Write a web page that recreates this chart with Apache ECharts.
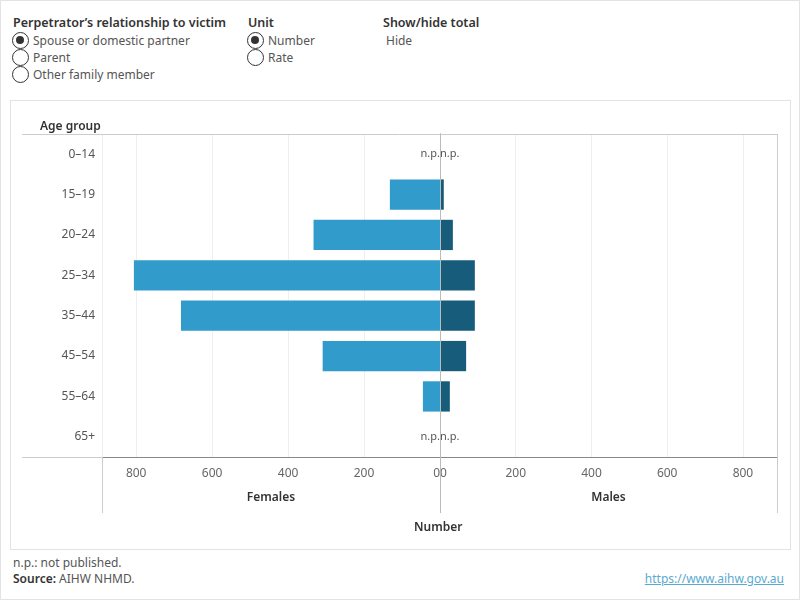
<!DOCTYPE html>
<html>
<head>
<meta charset="utf-8">
<script src="https://cdn.jsdelivr.net/npm/echarts@6/dist/echarts.min.js"></script>
<style>
  html, body { margin: 0; padding: 0; }
  body { width: 800px; height: 600px; position: relative; overflow: hidden; font-family: 'Noto Sans', sans-serif; color: #555; }
  .page { position: absolute; left: 0; top: 0; width: 798px; height: 598px; border: 1px solid #e3e3e3; }
  .box { position: absolute; left: 10px; top: 100px; width: 779px; height: 448px; border: 1px solid #e3e3e3; }
  #chart { position: absolute; left: 0; top: 0; width: 800px; height: 600px; }
  .ctl { position: absolute; top: 14px; font-size: 12px; }
  .ctl .title { font-weight: 600; color: #333; height: 18px; line-height: 18px; font-size: 12.5px; }
  .opt { height: 17px; line-height: 17px; position: relative; padding-left: 20px; white-space: nowrap; }
  .opt .r { position: absolute; left: -1px; top: 0px; width: 17px; height: 17px; border: 1.3px solid #333; border-radius: 50%; box-sizing: border-box; background: #fff; }
  .opt .r.on::after { content: ''; position: absolute; left: 3px; top: 3px; width: 8px; height: 8px; border-radius: 50%; background: #333; }
  .foot { position: absolute; font-size: 12px; }
  .foot b { color: #333; font-weight: 600; }
  .link { position: absolute; right: 16px; top: 570px; font-size: 12px; color: #5aaad0; text-decoration: underline; }
</style>
</head>
<body>
<div class="page"></div>
<div class="box"></div>
<div class="ctl" style="left:13px">
  <div class="title">Perpetrator’s relationship to victim</div>
  <div class="opt"><span class="r on"></span>Spouse or domestic partner</div>
  <div class="opt"><span class="r"></span>Parent</div>
  <div class="opt"><span class="r"></span>Other family member</div>
</div>
<div class="ctl" style="left:248px">
  <div class="title">Unit</div>
  <div class="opt"><span class="r on"></span>Number</div>
  <div class="opt"><span class="r"></span>Rate</div>
</div>
<div class="ctl" style="left:383px">
  <div class="title">Show/hide total</div>
  <div class="opt" style="padding-left:3px">Hide</div>
</div>
<div class="foot" style="left:13px; top:554px">n.p.: not published.</div>
<div class="foot" style="left:13px; top:570px"><b>Source:</b> AIHW NHMD.</div>
<div class="link">https://www.aihw.gov.au</div>
<div id="chart"></div>
<script>
const ageGroups = ['0–14', '15–19', '20–24', '25–34', '35–44', '45–54', '55–64', '65+'];
// null = n.p. (not published)
const femaleValues = [null, 132, 333, 806, 682, 309, 45, null];
const maleValues = [null, 10, 34, 92, 92, 69, 26, null];
const axisMax = 890;
const tickStep = 200;

const chart = echarts.init(document.getElementById('chart'));
const font = 'Noto Sans';

function toData(values) {
  return values.map(v => (v === null
    ? { value: 0, label: { show: true } }
    : v));
}

const npLabel = pos => ({
  show: false,
  position: pos,
  distance: 0,
  formatter: 'n.p.',
  color: '#555',
  fontSize: 11,
  fontFamily: font
});

const tickLabel = align => ({
  color: '#666',
  fontSize: 12,
  fontFamily: font,
  margin: 11,
  showMaxLabel: false,
  alignMinLabel: align
});

const axisName = {
  color: '#333',
  fontSize: 12,
  fontWeight: 600,
  fontFamily: font
};

chart.setOption({
  animation: false,
  grid: [
    { left: 102, top: 134, width: 338, height: 323 },
    { left: 440, top: 134, width: 337, height: 323 }
  ],
  xAxis: [
    {
      gridIndex: 0, type: 'value', inverse: true, min: 0, max: axisMax, interval: tickStep,
      name: 'Females', nameLocation: 'middle', nameGap: 35, nameTextStyle: axisName,
      axisLine: { show: true, lineStyle: { color: '#888' } },
      axisTick: { show: false },
      axisLabel: tickLabel('right'),
      splitLine: { lineStyle: { color: '#eeeeee' } }
    },
    {
      gridIndex: 1, type: 'value', min: 0, max: axisMax, interval: tickStep,
      name: 'Males', nameLocation: 'middle', nameGap: 35, nameTextStyle: axisName,
      axisLine: { show: true, lineStyle: { color: '#888' } },
      axisTick: { show: false },
      axisLabel: tickLabel('left'),
      splitLine: { lineStyle: { color: '#eeeeee' } }
    }
  ],
  yAxis: [
    {
      gridIndex: 0, type: 'category', data: ageGroups, inverse: true,
      axisLine: { show: true, lineStyle: { color: '#888' } },
      axisTick: { show: false },
      axisLabel: { color: '#555', fontSize: 12, fontFamily: font, margin: 7, padding: [2, 0, 0, 0] }
    },
    {
      gridIndex: 1, type: 'category', data: ageGroups, inverse: true,
      axisLine: { show: false }, axisTick: { show: false }, axisLabel: { show: false }
    }
  ],
  series: [
    {
      type: 'bar', name: 'Females', xAxisIndex: 0, yAxisIndex: 0,
      data: toData(femaleValues), barWidth: '75%',
      itemStyle: { color: '#319bcb' },
      label: npLabel('left')
    },
    {
      type: 'bar', name: 'Males', xAxisIndex: 1, yAxisIndex: 1,
      data: toData(maleValues), barWidth: '75%',
      itemStyle: { color: '#175c7b' },
      label: npLabel('right')
    }
  ],
  graphic: [
    { type: 'line', shape: { x1: 22, y1: 134.5, x2: 777, y2: 134.5 }, style: { stroke: '#cccccc', lineWidth: 1 }, z: 1 },
    { type: 'line', shape: { x1: 22, y1: 457.5, x2: 102, y2: 457.5 }, style: { stroke: '#cccccc', lineWidth: 1 }, z: 1 },
    { type: 'line', shape: { x1: 102.5, y1: 457, x2: 102.5, y2: 513 }, style: { stroke: '#cccccc', lineWidth: 1 }, z: 1 },
    { type: 'line', shape: { x1: 440.5, y1: 134, x2: 440.5, y2: 513 }, style: { stroke: '#bbbbbb', lineWidth: 1 }, z: 10 },
    { type: 'line', shape: { x1: 777.5, y1: 134, x2: 777.5, y2: 513 }, style: { stroke: '#cccccc', lineWidth: 1 }, z: 1 },
    { type: 'text', left: 40, top: 121, style: { text: 'Age group', fill: '#333', font: '600 12px "Noto Sans"' } },
    { type: 'text', left: 414, top: 522, style: { text: 'Number', fill: '#333', font: '600 12px "Noto Sans"' } }
  ]
});
</script>
</body>
</html>
